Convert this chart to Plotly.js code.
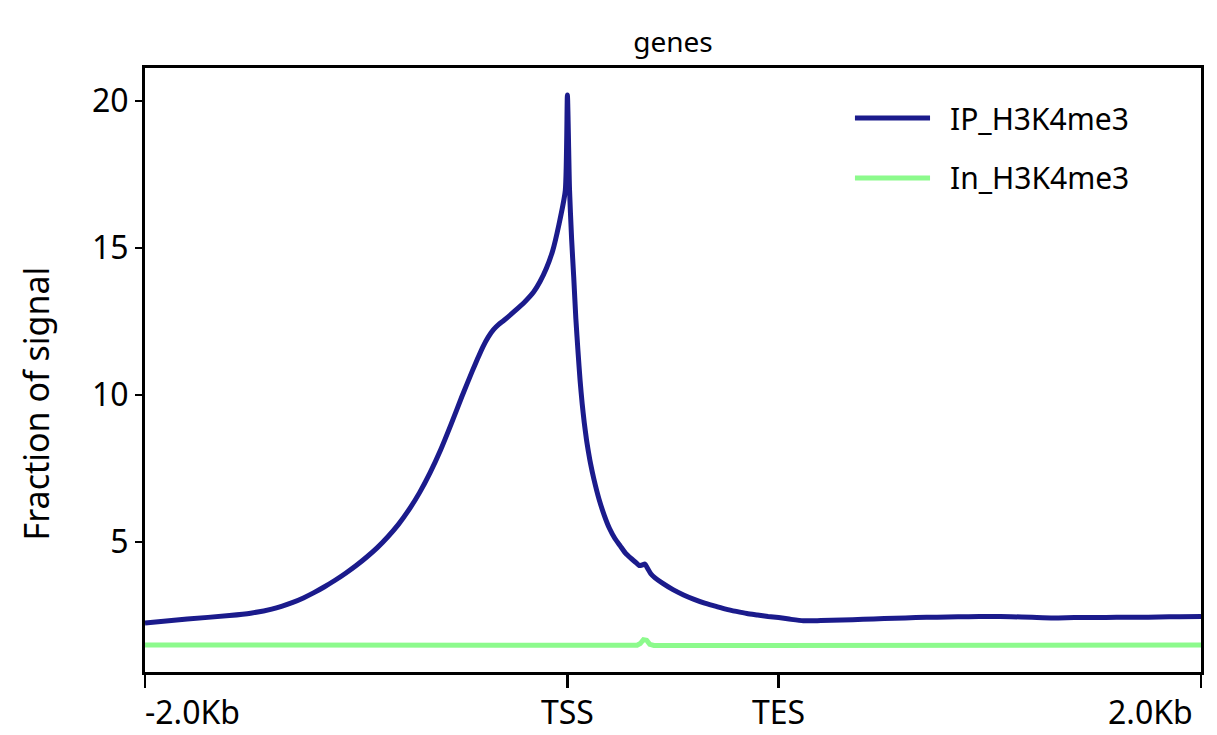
<!DOCTYPE html>
<html>
<head>
<meta charset="utf-8">
<script src="https://cdn.plot.ly/plotly-3.0.1.min.js"></script>
<style>
  html, body { margin: 0; padding: 0; background: #fff; }
  #plot { width: 1217px; height: 735px; }
</style>
</head>
<body>
<div id="plot"></div>
<script>
// profile positions (bp, body scaled to 1000 between TSS and TES)
var ipX = [-2000, -1800, -1600, -1500, -1400, -1300, -1250, -1200, -1150, -1100,
           -1050, -1000, -950, -900, -850, -800, -750, -700, -650, -600,
           -550, -500, -450, -425, -400, -375, -350, -325, -300, -250,
           -200, -160, -130, -100, -70, -40, -10, 0, 10, 20,
           30, 40, 50, 60, 70, 80, 90, 100, 110, 125,
           150, 175, 200, 225, 250, 275, 300, 325, 340, 355,
           367, 380, 395, 415, 450, 500, 550, 600, 650, 700,
           750, 800, 850, 900, 950, 1000, 1050, 1117, 1200, 1300,
           1400, 1500, 1600, 1700, 1800, 1900, 2000, 2100, 2200, 2300,
           2400, 2500, 2600, 2700, 2800, 2900, 3000];
var ipY = [2.25, 2.38, 2.50, 2.58, 2.72, 2.95, 3.10, 3.28, 3.48, 3.70,
           3.94, 4.20, 4.49, 4.81, 5.18, 5.60, 6.10, 6.68, 7.36, 8.14,
           9.02, 9.94, 10.82, 11.24, 11.64, 11.97, 12.22, 12.40, 12.54, 12.85,
           13.18, 13.50, 13.85, 14.30, 14.90, 15.80, 16.95, 20.2, 17.0, 15.3,
           14.0, 12.6, 11.5, 10.5, 9.7, 9.05, 8.5, 8.05, 7.65, 7.15,
           6.45, 5.9, 5.45, 5.12, 4.87, 4.62, 4.45, 4.30, 4.20, 4.22,
           4.25, 4.10, 3.92, 3.78, 3.60, 3.38, 3.20, 3.05, 2.92, 2.82,
           2.72, 2.64, 2.57, 2.52, 2.47, 2.43, 2.38, 2.32, 2.33, 2.35,
           2.37, 2.40, 2.42, 2.44, 2.45, 2.46, 2.47, 2.46, 2.44, 2.42,
           2.43, 2.43, 2.44, 2.44, 2.45, 2.46, 2.47];

var inX = [-2000, -1500, -1000, -500, 0, 200, 330, 345, 360, 375,
           390, 410, 500, 700, 900, 1000, 1200, 1500, 2000, 2500, 3000];
var inY = [1.50, 1.50, 1.52, 1.52, 1.51, 1.50, 1.49, 1.55, 1.68, 1.66,
           1.52, 1.48, 1.48, 1.48, 1.47, 1.47, 1.49, 1.51, 1.51, 1.50, 1.50];

var seriesNames = ['IP_H3K4me3', 'In_H3K4me3'];
var seriesColors = ['#1b1b8c', '#8cfa8c'];

var tickVals = [-2000, 0, 1000, 3000];
var tickText = ['-2.0Kb', 'TSS', 'TES', '2.0Kb'];
var yTicks = [5, 10, 15, 20];

var font = 'Noto Sans, Open Sans, sans-serif';

var traces = [
  {x: ipX, y: ipY, name: seriesNames[0], type: 'scatter', mode: 'lines',
   line: {color: seriesColors[0], width: 5, shape: 'spline', smoothing: 0.6}, showlegend: false},
  {x: inX, y: inY, name: seriesNames[1], type: 'scatter', mode: 'lines',
   line: {color: seriesColors[1], width: 5}, showlegend: false}
];
// draw the green under the blue like the original
traces.reverse();

// x tick labels: edge labels are aligned to the frame like matplotlib does
var annotations = tickVals.map(function(v, i) {
  var anchor = 'center', shift = 0;
  if (i == 0) { anchor = 'left'; shift = -2; }
  if (i == tickVals.length - 1) { anchor = 'right'; shift = -6; }
  return {x: v, y: 0, xref: 'x', yref: 'paper', text: tickText[i],
          showarrow: false, xanchor: anchor, yanchor: 'top', xshift: shift, yshift: -16,
          font: {family: font, size: 32, color: '#000'}};
});

annotations.push({x: -0.103, y: 0.445, xref: 'paper', yref: 'paper', text: 'Fraction of signal',
  showarrow: false, textangle: -90, xanchor: 'center', yanchor: 'middle',
  font: {family: font, size: 34, color: '#000'}});

// hand made legend, longer line samples than plotly's
var shapes = [];
var legY = [0.9172, 0.8179];
for (var i = 0; i < seriesNames.length; i++) {
  shapes.push({type: 'line', xref: 'paper', yref: 'paper', x0: 0.6723, x1: 0.7434,
               y0: legY[i], y1: legY[i], line: {color: seriesColors[i], width: 5}});
  annotations.push({x: 0.7604, y: legY[i], xref: 'paper', yref: 'paper', text: seriesNames[i],
                    showarrow: false, xanchor: 'left', yanchor: 'middle',
                    font: {family: font, size: 30, color: '#000'}});
}

var layout = {
  width: 1217,
  height: 735,
  margin: {l: 145, r: 16, t: 68, b: 63},
  paper_bgcolor: '#fff',
  plot_bgcolor: '#fff',
  font: {family: font, color: '#000'},
  title: {text: 'genes', x: 0.553, xanchor: 'center', y: 0.943, yanchor: 'middle',
          font: {family: font, size: 28, color: '#000'}},
  showlegend: false,
  xaxis: {
    range: [-2000, 3000],
    tickvals: tickVals,
    showticklabels: false,
    ticks: 'outside', ticklen: 13, tickwidth: 2.5, tickcolor: '#000',
    showline: true, linewidth: 3, linecolor: '#000', mirror: true,
    showgrid: false, zeroline: false
  },
  yaxis: {
    range: [0.58, 21.12],
    tickvals: yTicks,
    ticks: 'outside', ticklen: 7, tickwidth: 2.5, tickcolor: '#000',
    tickfont: {family: font, size: 32, color: '#000'},
    showline: true, linewidth: 3, linecolor: '#000', mirror: true,
    showgrid: false, zeroline: false
  },
  annotations: annotations,
  shapes: shapes
};

Plotly.newPlot('plot', traces, layout, {displayModeBar: false, staticPlot: true});
</script>
</body>
</html>
